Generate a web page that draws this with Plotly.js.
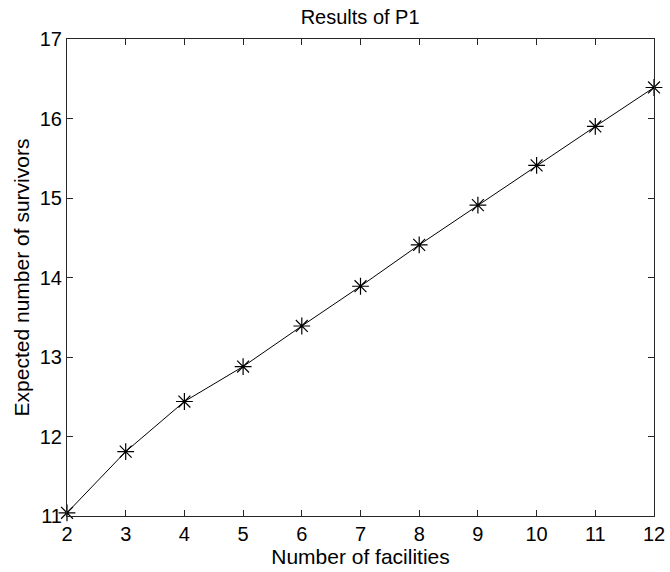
<!DOCTYPE html>
<html>
<head>
<meta charset="utf-8">
<script src="https://cdn.plot.ly/plotly-3.0.1.min.js"></script>
<style>
  html, body { margin: 0; padding: 0; background: #fff; }
  #chart { width: 670px; height: 572px; }
</style>
</head>
<body>
<div id="chart"></div>
<script>
// Number of facilities and the expected number of survivors for each
const facilities = [2, 3, 4, 5, 6, 7, 8, 9, 10, 11, 12];
const survivors = [11.04, 11.81, 12.44, 12.88, 13.39, 13.89, 14.41, 14.91, 15.41, 15.90, 16.39];
const xTicks = [2, 3, 4, 5, 6, 7, 8, 9, 10, 11, 12];
const yTicks = [11, 12, 13, 14, 15, 16, 17];

const FONT = 'Liberation Sans, Arial, Helvetica, sans-serif';

const trace = {
  x: facilities,
  y: survivors,
  type: 'scatter',
  mode: 'lines+markers',
  line: { color: '#000', width: 1 },
  marker: { symbol: 'asterisk-open', size: 14, color: '#000', line: { color: '#000', width: 1.2 } },
  cliponaxis: false,
  hoverinfo: 'x+y'
};

const axisCommon = {
  showline: true,
  linecolor: '#262626',
  linewidth: 1,
  mirror: 'ticks',
  ticks: 'inside',
  ticklen: 6,
  tickwidth: 1,
  tickcolor: '#262626',
  showgrid: false,
  zeroline: false,
  tickfont: { family: FONT, size: 20, color: '#000' }
};

const layout = {
  width: 670,
  height: 572,
  margin: { l: 67, r: 16, t: 39, b: 56 },
  paper_bgcolor: '#fff',
  plot_bgcolor: '#fff',
  showlegend: false,
  title: {
    text: 'Results of P1',
    font: { family: FONT, size: 20, color: '#000' },
    x: 0.5375, xanchor: 'center',
    y: 0.97, yanchor: 'middle'
  },
  xaxis: Object.assign({}, axisCommon, {
    range: [2, 12],
    tickvals: xTicks,
    ticktext: xTicks.map(String),
    title: { text: 'Number of facilities', font: { family: FONT, size: 21, color: '#000' }, standoff: 2 }
  }),
  yaxis: Object.assign({}, axisCommon, {
    range: [11, 17],
    tickvals: yTicks,
    ticktext: yTicks.map(String),
    title: { text: 'Expected number of survivors', font: { family: FONT, size: 21, color: '#000' }, standoff: 4 }
  })
};

Plotly.newPlot('chart', [trace], layout, { displayModeBar: false, staticPlot: true });
</script>
</body>
</html>
